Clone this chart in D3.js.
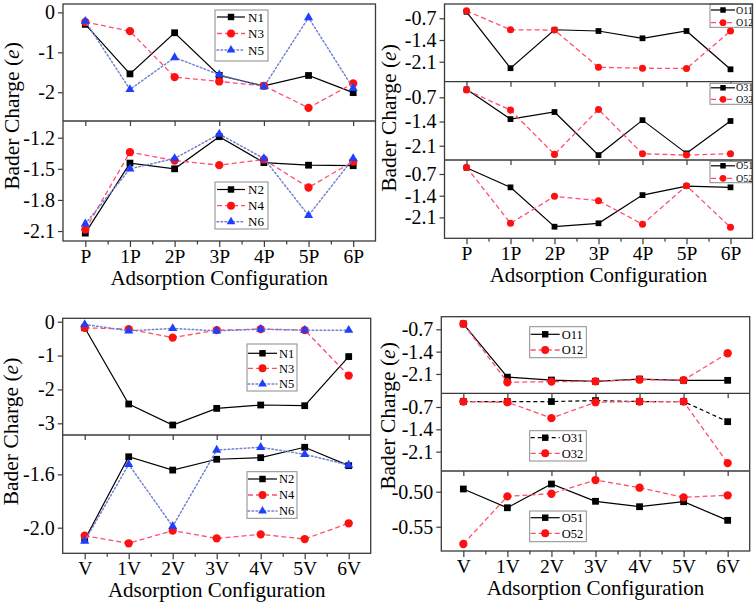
<!DOCTYPE html>
<html><head><meta charset="utf-8">
<script src="https://cdn.jsdelivr.net/npm/d3@7"></script>
<style>
body{margin:0;background:#fff}
svg{display:block}
text{font-family:"Liberation Serif","Times New Roman",serif;fill:#000}
</style>
</head><body>
<svg id="c" width="756" height="605"></svg>
<script>
// ---------- categories ----------
const catP = ["P","1P","2P","3P","4P","5P","6P"];
const catV = ["V","1V","2V","3V","4V","5V","6V"];

// ---------- panel (a): N atoms, P configurations ----------
const N1P = [-0.30, -1.54, -0.51, -1.58, -1.84, -1.58, -2.01];
const N3P = [-0.24, -0.47, -1.62, -1.73, -1.84, -2.39, -1.78];
const N5P = [-0.22, -1.93, -1.13, -1.56, -1.86, -0.13, -1.90];
const N2P = [-2.12, -1.445, -1.50, -1.19, -1.44, -1.465, -1.47];
const N4P = [-2.085, -1.34, -1.42, -1.465, -1.41, -1.68, -1.43];
const N6P = [-2.03, -1.50, -1.40, -1.165, -1.40, -1.95, -1.40];

// ---------- panel (b): O atoms, P configurations ----------
const O11P = [-0.49, -2.31, -1.07, -1.11, -1.345, -1.11, -2.345];
const O12P = [-0.46, -1.07, -1.08, -2.28, -2.31, -2.32, -1.11];
const O31P = [-0.47, -1.33, -1.125, -2.37, -1.36, -2.32, -1.385];
const O32P = [-0.49, -1.07, -2.35, -1.05, -2.33, -2.37, -2.33];
const O51P = [-0.50, -1.13, -2.40, -2.29, -1.38, -1.09, -1.13];
const O52P = [-0.48, -2.29, -1.42, -1.56, -2.32, -1.08, -2.42];

// ---------- panel (c): N atoms, V configurations ----------
const N1V = [-0.18, -2.43, -3.05, -2.56, -2.46, -2.48, -1.03];
const N3V = [-0.18, -0.22, -0.47, -0.25, -0.22, -0.25, -1.59];
const N5V = [-0.08, -0.27, -0.20, -0.27, -0.22, -0.25, -0.25];
const N2V = [-2.09, -1.468, -1.568, -1.487, -1.475, -1.397, -1.535];
const N4V = [-2.06, -2.117, -2.022, -2.08, -2.05, -2.085, -1.967];
const N6V = [-2.10, -1.525, -1.99, -1.418, -1.397, -1.45, -1.53];

// ---------- panel (d): O atoms, V configurations ----------
const O11V = [-0.53, -2.20, -2.29, -2.33, -2.26, -2.30, -2.30];
const O12V = [-0.53, -2.36, -2.34, -2.33, -2.28, -2.29, -1.45];
const O31V = [-0.53, -0.53, -0.53, -0.50, -0.53, -0.53, -1.16];
const O32V = [-0.53, -0.55, -1.05, -0.55, -0.53, -0.53, -2.46];
const O51V = [-0.4961, -0.5229, -0.489, -0.5137, -0.5214, -0.5143, -0.5409];
const O52V = [-0.5747, -0.5066, -0.5029, -0.4833, -0.4943, -0.508, -0.5051];

// ---------- tick values / labels ----------
const tickA1 = [0, -1, -2],            labA1 = ["0", "-1", "-2"];
const tickA2 = [-1.2, -1.5, -1.8, -2.1], labA2 = ["-1.2", "-1.5", "-1.8", "-2.1"];
const tickO  = [-0.7, -1.4, -2.1],     labO  = ["-0.7", "-1.4", "-2.1"];
const tickC1 = [0, -1, -2, -3],        labC1 = ["0", "-1", "-2", "-3"];
const tickC2 = [-1.6, -2.0],           labC2 = ["-1.6", "-2.0"];
const tickD3 = [-0.50, -0.55],         labD3 = ["-0.50", "-0.55"];

const yTitle = "Bader Charge (";
const xTitle = "Adsorption Configuration";

// ---------- styles ----------
const styles = {
  solid: {stroke:"#000", dash:null, width:1.2, marker:d3.symbolSquare, fill:"#000"},
  dash:  {stroke:"#ff4f6e", dash:"5,3", width:1.3, marker:d3.symbolCircle, fill:"#ff1010"},
  dot:   {stroke:"#7282d4", dash:"1.6,2.4", width:1.5, marker:d3.symbolTriangle, fill:"#1f3fff"},
  bdash: {stroke:"#000", dash:"4,3", width:1.2, marker:d3.symbolSquare, fill:"#000"}
};

// ---------- layout ----------
const panels = [
  {x0:63, x1:375.5, cats:catP, bottom:241, ylx:18.5, yly:116, ms:1.0,
   subs:[
    {top:4, bot:121, dom:[-2.72, 0.21], tv:tickA1, tl:labA1,
     series:[["N1",N1P,"solid"],["N3",N3P,"dash"],["N5",N5P,"dot"]],
     leg:{x:215, y:10, w:53, h:51, rows:[17,33.5,50], off:2, len:28, tx:33, fs:13}},
    {top:121, bot:241, dom:[-2.196, -1.039], tv:tickA2, tl:labA2,
     series:[["N2",N2P,"solid"],["N4",N4P,"dash"],["N6",N6P,"dot"]],
     leg:{x:215, y:182, w:53, h:47, rows:[189.5,205.7,221.7], off:2, len:28, tx:33, fs:13}}
   ]},
  {x0:444.5, x1:752.5, cats:catP, bottom:238.3, ylx:396.3, yly:118, ms:0.85,
   subs:[
    {top:4, bot:81.7, dom:[-2.745, -0.239], tv:tickO, tl:labO,
     series:[["O11",O11P,"solid"],["O12",O12P,"dash"]],
     leg:{x:710, y:4, w:42, h:23.3, rows:[10,22.7], off:1, len:24, tx:26, fs:10}},
    {top:81.7, bot:160, dom:[-2.512, -0.249], tv:tickO, tl:labO,
     series:[["O31",O31P,"solid"],["O32",O32P,"dash"]],
     leg:{x:710, y:83.3, w:42, h:21, rows:[87.8,99.3], off:1, len:24, tx:26, fs:10}},
    {top:160, bot:238.3, dom:[-2.774, -0.248], tv:tickO, tl:labO,
     series:[["O51",O51P,"solid"],["O52",O52P,"dash"]],
     leg:{x:710, y:161.3, w:42, h:21.4, rows:[165.8,178.3], off:1, len:24, tx:26, fs:10}}
   ]},
  {x0:62.7, x1:370.7, cats:catV, bottom:553.3, ylx:18.3, yly:431.5, ms:1.0,
   subs:[
    {top:318.3, bot:435, dom:[-3.345, 0.1], tv:tickC1, tl:labC1,
     series:[["N1",N1V,"solid"],["N3",N3V,"dash"],["N5",N5V,"dot"]],
     leg:{x:247, y:344, w:50, h:47, rows:[353.3,368.3,384], off:1, len:29, tx:32, fs:12.5}},
    {top:435, bot:553.3, dom:[-2.192, -1.305], tv:tickC2, tl:labC2,
     series:[["N2",N2V,"solid"],["N4",N4V,"dash"],["N6",N6V,"dot"]],
     leg:{x:247, y:471.7, w:50, h:46.6, rows:[479,495,511], off:1, len:29, tx:32, fs:12.5}}
   ]},
  {x0:441.3, x1:749.7, cats:catV, bottom:551, ylx:395.3, yly:416, ms:1.0,
   subs:[
    {top:316.7, bot:393.3, dom:[-2.706, -0.305], tv:tickO, tl:labO,
     series:[["O11",O11V,"solid"],["O12",O12V,"dash"]],
     leg:{x:529.7, y:326.7, w:56.6, h:31, rows:[334.3,350], off:1, len:29, tx:32, fs:12.5}},
    {top:393.3, bot:471, dom:[-2.707, -0.271], tv:tickO, tl:labO,
     series:[["O31",O31V,"bdash"],["O32",O32V,"dash"]],
     leg:{x:529.7, y:430.7, w:56.6, h:30.3, rows:[437.7,453.3], off:1, len:29, tx:32, fs:12.5}},
    {top:471, bot:551, dom:[-0.5847, -0.4704], tv:tickD3, tl:labD3,
     series:[["O51",O51V,"solid"],["O52",O52V,"dash"]],
     leg:{x:529.7, y:511, w:56.6, h:30.7, rows:[517.7,533.3], off:1, len:29, tx:32, fs:12.5}}
   ]}
];

const svg = d3.select("#c");
svg.append("rect").attr("width",756).attr("height",605).attr("fill","#fff");
const frameCol = "#3a3a3a";

function markerPath(st, ms){
  let size;
  if (st.marker === d3.symbolSquare) size = 46*ms*ms;
  else if (st.marker === d3.symbolCircle) size = 54*ms*ms;
  else size = 36*ms*ms;
  return d3.symbol().type(st.marker).size(size)();
}

panels.forEach(p => {
  const g = svg.append("g");
  const x = d3.scaleLinear().domain([-0.5, p.cats.length - 0.5]).range([p.x0, p.x1]);
  const idx = d3.range(p.cats.length);

  p.subs.forEach((s, si) => {
    const y = d3.scaleLinear().domain(s.dom).range([s.bot, s.top]);
    const isLast = si === p.subs.length - 1;

    // y axis
    const ya = g.append("g").attr("transform", `translate(${p.x0},0)`)
      .call(d3.axisLeft(y).tickValues(s.tv).tickFormat((d,i) => s.tl[i]).tickSize(5).tickPadding(3));
    ya.select(".domain").remove();
    ya.selectAll("line").attr("stroke", frameCol).attr("stroke-width", 1.2);
    ya.selectAll("text").style("font-size","20px").style("font-family",'"Liberation Serif",serif').attr("fill","#000");

    // x axis ticks at bottom of each sub-plot
    const xa = g.append("g").attr("transform", `translate(0,${s.bot})`)
      .call(d3.axisBottom(x).tickValues(idx).tickFormat(isLast ? (i => p.cats[i]) : () => "")
        .tickSize(isLast ? 6 : 5).tickPadding(2));
    xa.select(".domain").remove();
    xa.selectAll("line").attr("stroke", frameCol).attr("stroke-width", 1.2);
    xa.selectAll("text").style("font-size","19.5px").style("font-family",'"Liberation Serif",serif').attr("fill","#000");
    if (isLast) {
      const xm = g.append("g").attr("transform", `translate(0,${s.bot})`)
        .call(d3.axisBottom(x).tickValues(idx.slice(0,-1).map(i => i + 0.5)).tickFormat(() => "").tickSize(3.5));
      xm.select(".domain").remove();
      xm.selectAll("line").attr("stroke", frameCol).attr("stroke-width", 1.2);
    }

    // series
    s.series.forEach(([name, vals, sk]) => {
      const st = styles[sk];
      const line = d3.line().x((d,i) => x(i)).y(d => y(d));
      g.append("path").datum(vals).attr("d", line).attr("fill","none")
        .attr("stroke", st.stroke).attr("stroke-width", st.width)
        .attr("stroke-dasharray", st.dash).attr("stroke-linecap", sk === "dot" ? "round" : "butt");
      g.selectAll(null).data(vals).enter().append("path")
        .attr("d", markerPath(st, p.ms))
        .attr("transform", (d,i) => `translate(${x(i)},${y(d)})`)
        .attr("fill", st.fill);
    });

    // legend
    const L = s.leg;
    const lg = g.append("g");
    lg.append("rect").attr("x", L.x).attr("y", L.y).attr("width", L.w).attr("height", L.h)
      .attr("fill","#fff").attr("stroke","#8a8a8a").attr("stroke-width",1);
    s.series.forEach(([name, vals, sk], k) => {
      const st = styles[sk];
      const ry = L.rows[k];
      lg.append("line").attr("x1", L.x + L.off).attr("x2", L.x + L.off + L.len)
        .attr("y1", ry).attr("y2", ry).attr("stroke", st.stroke).attr("stroke-width", st.width)
        .attr("stroke-dasharray", st.dash).attr("stroke-linecap", sk === "dot" ? "round" : "butt");
      lg.append("path").attr("d", markerPath(st, p.ms * 0.95))
        .attr("transform", `translate(${L.x + L.off + L.len/2},${ry})`).attr("fill", st.fill);
      lg.append("text").attr("x", L.x + L.tx).attr("y", ry).attr("dy","0.35em")
        .style("font-size", L.fs + "px").text(name);
    });
  });

  // frame: outer box + dividers
  const top = p.subs[0].top;
  g.append("rect").attr("x", p.x0).attr("y", top).attr("width", p.x1 - p.x0).attr("height", p.bottom - top)
    .attr("fill","none").attr("stroke", frameCol).attr("stroke-width", 1.3);
  p.subs.slice(1).forEach(s => {
    g.append("line").attr("x1", p.x0).attr("x2", p.x1).attr("y1", s.top).attr("y2", s.top)
      .attr("stroke", frameCol).attr("stroke-width", 1.3);
  });

  // titles
  g.append("text").attr("x", (p.x0 + p.x1)/2).attr("y", p.bottom + 44).attr("text-anchor","middle")
    .style("font-size","21px").text(xTitle);
  const yl = g.append("text").attr("transform", `translate(${p.ylx},${p.yly}) rotate(-90)`)
    .attr("text-anchor","middle").style("font-size","21.5px");
  yl.append("tspan").text(yTitle);
  yl.append("tspan").style("font-style","italic").text("e");
  yl.append("tspan").text(")");
});
</script>
</body></html>
